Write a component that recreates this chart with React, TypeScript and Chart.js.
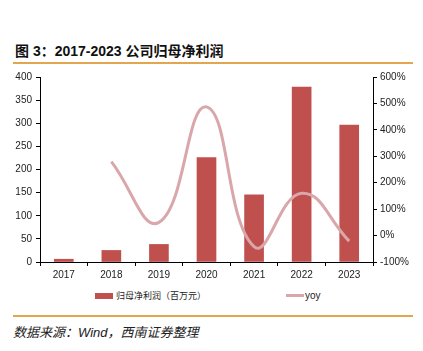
import React, { useEffect, useRef } from "react";
import { Chart, registerables } from "chart.js";

Chart.register(...registerables);

const categories = ["2017", "2018", "2019", "2020", "2021", "2022", "2023"];
const profit = [6, 25, 38, 226, 145, 378, 296];
const yoy: (number | null)[] = [null, 280, 50, 487, -42, 160, -21];
const leftTicks = [0, 50, 100, 150, 200, 250, 300, 350, 400];
const rightTicks = [-100, 0, 100, 200, 300, 400, 500, 600];

const FONT = '"Liberation Sans", Arial, "Noto Sans CJK SC", sans-serif';
const BAR_COLOR = "#c0504d";
const LINE_COLOR = "#d9a7aa";
const RULE_COLOR = "#e3a54e";

export default function App() {
  const ref = useRef<HTMLCanvasElement | null>(null);

  useEffect(() => {
    if (!ref.current) return;
    const chart = new Chart(ref.current, {
      type: "bar",
      data: {
        labels: categories,
        datasets: [
          {
            type: "line",
            label: "yoy",
            data: yoy,
            yAxisID: "y1",
            borderColor: LINE_COLOR,
            borderWidth: 3,
            pointRadius: 0,
            tension: 0.45,
            spanGaps: true,
            order: 0,
          } as any,
          {
            type: "bar",
            label: "归母净利润（百万元）",
            data: profit,
            yAxisID: "y",
            backgroundColor: BAR_COLOR,
            barThickness: 19,
            order: 1,
          },
        ],
      },
      options: {
        animation: false,
        responsive: false,
        maintainAspectRatio: false,
        layout: { padding: { top: 17, left: 0, right: 0, bottom: 0 } },
        plugins: { legend: { display: false }, tooltip: { enabled: false } },
        scales: {
          x: {
            offset: true,
            grid: {
              offset: true,
              drawOnChartArea: false,
              drawTicks: true,
              tickLength: 4,
              color: "#000",
            },
            border: { color: "#000", width: 1 },
            ticks: { color: "#222", font: { family: FONT, size: 10 }, padding: 3 },
            afterFit: (s: any) => {
              s.height = 22;
            },
          },
          y: {
            position: "left",
            min: 0,
            max: 400,
            afterBuildTicks: (s: any) => {
              s.ticks = leftTicks.map((v) => ({ value: v }));
            },
            grid: { drawOnChartArea: false, drawTicks: true, tickLength: 4, color: "#000" },
            border: { color: "#000", width: 1 },
            ticks: { color: "#222", font: { family: FONT, size: 10 }, padding: 4 },
            afterFit: (s: any) => {
              s.width = 40;
            },
          },
          y1: {
            position: "right",
            min: -100,
            max: 600,
            afterBuildTicks: (s: any) => {
              s.ticks = rightTicks.map((v) => ({ value: v }));
            },
            grid: { drawOnChartArea: false, drawTicks: true, tickLength: 4, color: "#000" },
            border: { color: "#000", width: 1 },
            ticks: {
              color: "#222",
              font: { family: FONT, size: 10 },
              padding: 3,
              callback: (v: any) => v + "%",
            },
            afterFit: (s: any) => {
              s.width = 50;
            },
          },
        },
      },
    });
    return () => chart.destroy();
  }, []);

  return (
    <div
      style={{
        position: "fixed",
        left: 0,
        top: 0,
        width: 423,
        height: 351,
        background: "#fff",
        fontFamily: FONT,
        overflow: "hidden",
      }}
    >
      <div
        style={{
          position: "absolute",
          left: 15,
          top: 42,
          fontSize: 14,
          fontWeight: "bold",
          color: "#111",
          lineHeight: "18px",
          whiteSpace: "nowrap",
        }}
      >
        图 3：2017-2023 公司归母净利润
      </div>
      <div
        style={{
          position: "absolute",
          left: 13,
          top: 62,
          width: 400,
          height: 2,
          background: RULE_COLOR,
        }}
      />
      <canvas
        ref={ref}
        width={423}
        height={224}
        style={{ position: "absolute", left: 0, top: 60, width: 423, height: 224 }}
      />
      <div
        style={{
          position: "absolute",
          left: 95,
          top: 293,
          width: 18,
          height: 6,
          background: BAR_COLOR,
        }}
      />
      <div
        style={{
          position: "absolute",
          left: 116,
          top: 289,
          fontSize: 9,
          lineHeight: "14px",
          color: "#222",
          fontFamily: '"Noto Sans CJK SC", sans-serif',
          whiteSpace: "nowrap",
        }}
      >
        归母净利润（百万元）
      </div>
      <div
        style={{
          position: "absolute",
          left: 286,
          top: 294,
          width: 18,
          height: 3,
          background: LINE_COLOR,
        }}
      />
      <div
        style={{
          position: "absolute",
          left: 305,
          top: 289,
          fontSize: 10,
          lineHeight: "14px",
          color: "#222",
          whiteSpace: "nowrap",
        }}
      >
        yoy
      </div>
      <div
        style={{
          position: "absolute",
          left: 13,
          top: 315,
          width: 400,
          height: 2,
          background: RULE_COLOR,
        }}
      />
      <div
        style={{
          position: "absolute",
          left: 13,
          top: 324,
          fontSize: 13,
          lineHeight: "18px",
          fontStyle: "italic",
          color: "#222",
          whiteSpace: "nowrap",
          fontFamily: '"Liberation Sans", Arial, "Noto Sans CJK SC", sans-serif',
        }}
      >
        数据来源：Wind，西南证券整理
      </div>
    </div>
  );
}
